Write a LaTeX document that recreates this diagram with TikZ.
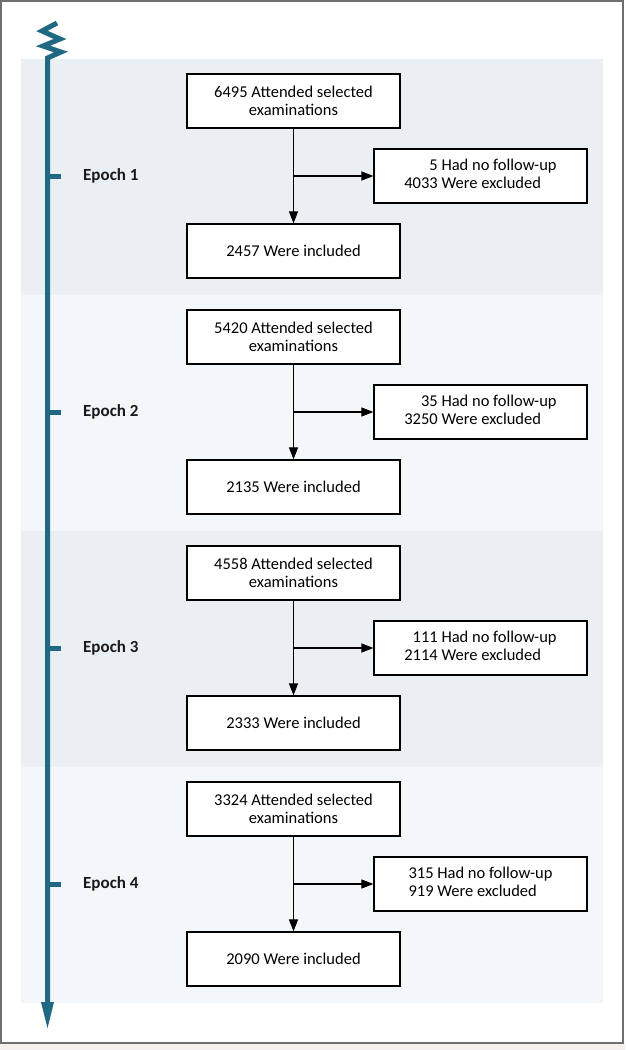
\documentclass[tikz,border=0pt]{standalone}
\usepackage{fontspec}
\setmainfont{Carlito}
\usetikzlibrary{arrows.meta}
\definecolor{tlcol}{RGB}{33,104,130}
\definecolor{banddark}{RGB}{234,239,244}
\definecolor{bandlight}{RGB}{243,247,249}
\definecolor{framecol}{RGB}{110,110,110}
\definecolor{stripcol}{RGB}{244,240,236}
\tikzset{
  box/.style={draw=black, line width=1.2pt, fill=white, minimum width=213pt, minimum height=54pt,
    inner sep=0pt, align=center, font=\fontsize{16.5}{18}\selectfont},
  flow/.style={draw=black, line width=1.1pt, -{Triangle[length=12pt,width=9pt]}},
  epochlbl/.style={font=\fontsize{17}{20}\bfseries\selectfont, anchor=west, inner sep=0pt, text=black!90},
  tick/.style={draw=tlcol, line width=5pt},
}
\newcommand{\sidetext}[4]{\begin{tabular}{@{}r@{\hspace{0.226em}}l@{}}#1&#2\\#3&#4\end{tabular}}
\begin{document}
\begin{tikzpicture}[x=1pt,y=-1pt]
\useasboundingbox (0,0) rectangle (625,1050);
\fill[white] (0,0) rectangle (625,1050);
\fill[stripcol] (0,1044) rectangle (625,1050);
% bands
\fill[banddark] (21,59) rectangle (603,295);
\fill[bandlight] (21,295) rectangle (603,531);
\fill[banddark] (21,531) rectangle (603,767);
\fill[bandlight] (21,767) rectangle (603,1003);
\draw[framecol, line width=2pt] (1,1) rectangle (623,1043);
% timeline
\draw[tlcol, line width=5pt, line join=miter] (57,23) -- (42,31) -- (60,39) -- (43,46) -- (61,52) -- (47.5,58) -- (47.5,1005);
\fill[tlcol] (41,1002) -- (54,1002) -- (47.5,1028) -- cycle;
% epochs
\foreach \i/\n in {0/1,1/2,2/3,3/4}{
  \draw[tick] (47.5,176+236*\i) -- (61,176+236*\i);
  \node[epochlbl] (e\n) at (83,176+236*\i) {Epoch \n};
}
% epoch 1
\node[box] (t1) at (293.5,101) {6495 Attended selected\\examinations};
\node[box] (s1) at (480.5,176) {\sidetext{5}{Had no follow-up}{4033}{Were excluded}};
\node[box] (b1) at (293.5,251) {2457 Were included};
% epoch 2
\node[box] (t2) at (293.5,337) {5420 Attended selected\\examinations};
\node[box] (s2) at (480.5,412) {\sidetext{35}{Had no follow-up}{3250}{Were excluded}};
\node[box] (b2) at (293.5,487) {2135 Were included};
% epoch 3
\node[box] (t3) at (293.5,573) {4558 Attended selected\\examinations};
\node[box] (s3) at (480.5,648) {\sidetext{111}{Had no follow-up}{2114}{Were excluded}};
\node[box] (b3) at (293.5,723) {2333 Were included};
% epoch 4
\node[box] (t4) at (293.5,809) {3324 Attended selected\\examinations};
\node[box] (s4) at (480.5,884) {\sidetext{315}{Had no follow-up}{919}{Were excluded}};
\node[box] (b4) at (293.5,959) {2090 Were included};
\foreach \n in {1,2,3,4}{
  \draw[flow] (t\n.south) -- (b\n.north);
  \draw[flow] (t\n.south |- s\n.west) -- (s\n.west);
}
\end{tikzpicture}
\end{document}
